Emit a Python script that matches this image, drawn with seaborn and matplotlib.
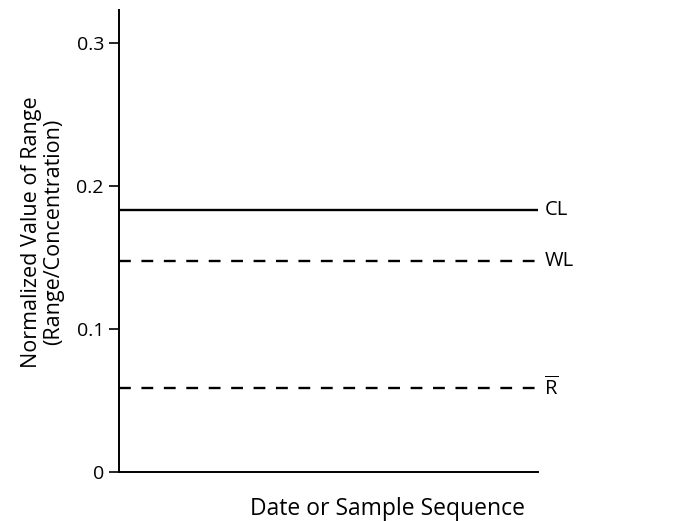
import pandas as pd
import numpy as np
import matplotlib.pyplot as plt
import seaborn as sns

# control-limit values
limit_names = ['CL', 'WL', 'Rbar']
limit_values = [0.183, 0.1475, 0.0585]
limit_labels = ['CL', 'WL', r'$\overline{\mathrm{R}}$']
seq_span = [0, 1]
y_ticks = [0, 0.1, 0.2, 0.3]
y_tick_labels = ['0', '0.1', '0.2', '0.3']

sns.set_style('ticks')
plt.rcParams['font.family'] = ['Open Sans', 'DejaVu Sans']
plt.rcParams['mathtext.fontset'] = 'custom'
plt.rcParams['mathtext.rm'] = 'Open Sans'
plt.rcParams['text.color'] = 'black'
plt.rcParams['axes.labelcolor'] = 'black'
plt.rcParams['ytick.color'] = 'black'

rows = []
for name, val in zip(limit_names, limit_values):
    for s in seq_span:
        rows.append({'limit': name, 'seq': s, 'value': val})
df = pd.DataFrame(rows)

fig = plt.figure(figsize=(6.81, 5.21), dpi=100)
ax = fig.add_axes([0.175, 0.094, 0.615, 0.887])

dash_map = {'CL': '', 'WL': (5, 4.5), 'Rbar': (5, 4.5)}
sns.lineplot(data=df, x='seq', y='value', style='limit', dashes=dash_map,
             color='black', linewidth=1.7, legend=False, ax=ax)

for lab, val in zip(limit_labels, limit_values):
    ax.text(1.015, val, lab, transform=ax.get_yaxis_transform(),
            va='center', ha='left', fontsize=14.5)

ax.set_xlim(seq_span[0], seq_span[1])
ax.set_ylim(0, 0.323)
ax.set_yticks(y_ticks)
ax.set_yticklabels(y_tick_labels, fontsize=14)
ax.set_xticks([])
ax.tick_params(axis='y', length=7, width=1.2, direction='out', pad=4)
ax.set_xlabel('Date or Sample Sequence', fontsize=16.5, labelpad=14)
ax.xaxis.set_label_coords(0.64, -0.055)
ax.set_ylabel('Normalized Value of Range\n(Range/Concentration)', fontsize=15.5,
              labelpad=6, linespacing=1.05)
ax.yaxis.set_label_coords(-0.132, 0.52)
sns.despine(ax=ax)
for sp in ['left', 'bottom']:
    ax.spines[sp].set_linewidth(1.4)
    ax.spines[sp].set_color('black')

fig.savefig('out.png', dpi=100)
